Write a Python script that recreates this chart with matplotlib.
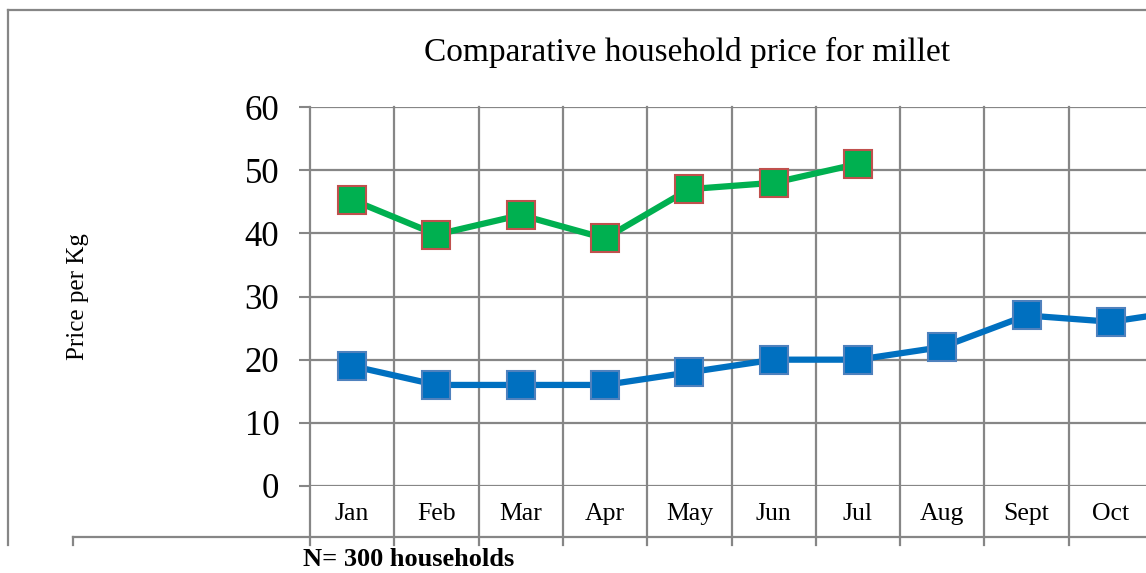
import matplotlib
matplotlib.use("Agg")
import matplotlib.pyplot as plt
from matplotlib.lines import Line2D
import matplotlib.transforms as mtransforms

months = ["Jan", "Feb", "Mar", "Apr", "May", "Jun", "Jul", "Aug", "Sept", "Oct", "Nov"]
blue_values = [19, 16, 16, 16, 18, 20, 20, 22, 27, 26, 28]
green_values = [45.3, 39.8, 42.9, 39.2, 47, 48, 51]
yticks = [0, 10, 20, 30, 40, 50, 60]
n_visible_labels = 10  # labels beyond the figure's right edge are not shown

title = "Comparative household price for millet"
ylabel = "Price per Kg"
note = "N= 300 households"

GRID = "#868686"
SERIF = ["Liberation Serif", "DejaVu Serif"]

W, H = 1146, 573
fig = plt.figure(figsize=(W / 100, H / 100), dpi=100)

def fx(px):
    return px / W

def fy(py):
    return 1 - py / H

ncat = len(months)
cat_w = 84.3
left_px, top_px, bottom_px = 310, 107, 486
ax = fig.add_axes([fx(left_px), fy(bottom_px), fx(cat_w * ncat), (bottom_px - top_px) / H])

x = list(range(ncat))
ax.plot(x[:len(blue_values)], blue_values, color="#0070c0", lw=4.5, marker="s",
        markersize=20, markerfacecolor="#0070c0", markeredgecolor="#4f81bd",
        markeredgewidth=1.5, zorder=3)
ax.plot(x[:len(green_values)], green_values, color="#00b050", lw=4.5, marker="s",
        markersize=20, markerfacecolor="#00b050", markeredgecolor="#c0504d",
        markeredgewidth=1.5, zorder=4)

ax.set_xlim(-0.5, ncat - 0.5)
ax.set_ylim(0, 60)
ax.set_yticks(yticks)
ax.set_yticklabels([str(t) for t in yticks], fontfamily=SERIF, fontsize=25)
ax.tick_params(axis="y", length=8, width=1.5, color=GRID, pad=14)

ax.set_xticks(x[:n_visible_labels])
ax.set_xticklabels(months[:n_visible_labels], fontfamily=SERIF, fontsize=18.5)
ax.tick_params(axis="x", length=0, pad=12)

# gridlines
for t in yticks:
    ax.axhline(t, color=GRID, lw=1.6, zorder=1)
trans = mtransforms.blended_transform_factory(ax.transData, ax.transAxes)
ext = -(545 - bottom_px) / (bottom_px - top_px)
for i in range(ncat + 1):
    ax.plot([i - 0.5, i - 0.5], [ext, 1], color=GRID, lw=1.6, transform=trans,
            clip_on=False, zorder=1)

for s in ax.spines.values():
    s.set_visible(False)

# lower horizontal line of category band
fig.add_artist(Line2D([fx(73), 1.0], [fy(537), fy(537)], color=GRID, lw=1.6))
fig.add_artist(Line2D([fx(73), fx(73)], [fy(537), fy(545)], color=GRID, lw=1.6))

# outer frame
fig.add_artist(Line2D([fx(8), fx(8)], [fy(10), fy(545)], color=GRID, lw=1.6))
fig.add_artist(Line2D([fx(8), 1.0], [fy(10), fy(10)], color=GRID, lw=1.6))

fig.text(fx(687), fy(52), title, ha="center", va="center", fontfamily=SERIF, fontsize=24)
fig.text(fx(78), fy(297), ylabel, ha="center", va="center", rotation=90,
         fontfamily=SERIF, fontsize=18)
fig.text(fx(303), fy(560), note, ha="left", va="center", fontfamily=SERIF,
         fontsize=19, fontweight="bold")

fig.savefig("out.png", dpi=100)
